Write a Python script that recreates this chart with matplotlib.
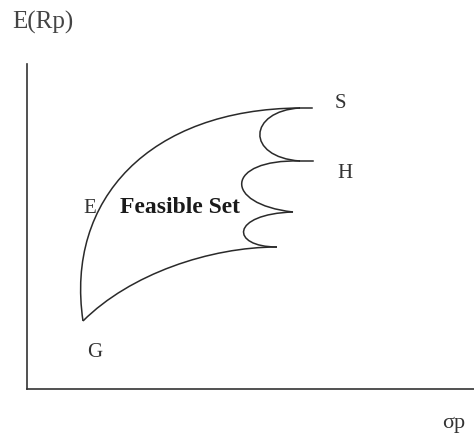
import matplotlib
matplotlib.use("Agg")
import matplotlib.pyplot as plt
from matplotlib.path import Path
from matplotlib.patches import PathPatch

# control points of the hand-drawn feasible set (cubic bezier segments)
upper_x = [56, 38, 123, 273]
upper_y = [68, 190, 280, 281]
scallop1_x = [273, 221, 218, 273]
scallop1_y = [281, 278, 232, 228]
scallop2_x = [273, 198, 195, 266]
scallop2_y = [228, 230, 185, 177]
scallop3_x = [266, 203, 203, 250]
scallop3_y = [177, 175, 142, 142]
lower_x = [250, 183, 103, 56]
lower_y = [142, 142, 115, 68]

# short straight stubs at S and H
stub_s = ([273, 285], [281, 281])
stub_h = ([273, 286], [228, 228])

point_labels = ["S", "H", "E", "G"]
label_x = [313, 318, 63, 68]
label_y = [282, 212, 177, 33]

ink = "#2a2a2a"

fig = plt.figure(figsize=(4.74, 4.39), dpi=100)
ax = fig.add_axes([27 / 474, 1 - 390 / 439, 1 - 27 / 474, 325 / 439])
ax.set_xlim(0, 447)
ax.set_ylim(0, 325)

for xs, ys in [(upper_x, upper_y), (scallop1_x, scallop1_y), (scallop2_x, scallop2_y),
               (scallop3_x, scallop3_y), (lower_x, lower_y)]:
    verts = list(zip(xs, ys))
    path = Path(verts, [Path.MOVETO, Path.CURVE4, Path.CURVE4, Path.CURVE4])
    ax.add_patch(PathPatch(path, facecolor="none", edgecolor=ink, lw=1.1))

for sx, sy in [stub_s, stub_h]:
    ax.plot(sx, sy, color=ink, lw=1.1)

for lab, x, y in zip(point_labels, label_x, label_y):
    ax.text(x, y, lab, fontsize=15, family="Liberation Serif", color="#333333",
            ha="center", va="baseline")

ax.text(93, 177, "Feasible Set", fontsize=17, family="Liberation Serif",
        fontweight="bold", color="#1a1a1a", ha="left", va="baseline")

for side in ["top", "right"]:
    ax.spines[side].set_visible(False)
for side in ["left", "bottom"]:
    ax.spines[side].set_color("#333333")
    ax.spines[side].set_linewidth(1.2)
ax.set_xticks([])
ax.set_yticks([])

fig.text(12 / 474, 1 - 29 / 439, "E(Rp)", fontsize=18, family="Liberation Serif",
         color="#444444", ha="left", va="baseline")
fig.text(442 / 474, 1 - 428 / 439, "σp", fontsize=16, family="Liberation Serif",
         color="#333333", ha="left", va="baseline")

fig.savefig("out.png", dpi=100)
